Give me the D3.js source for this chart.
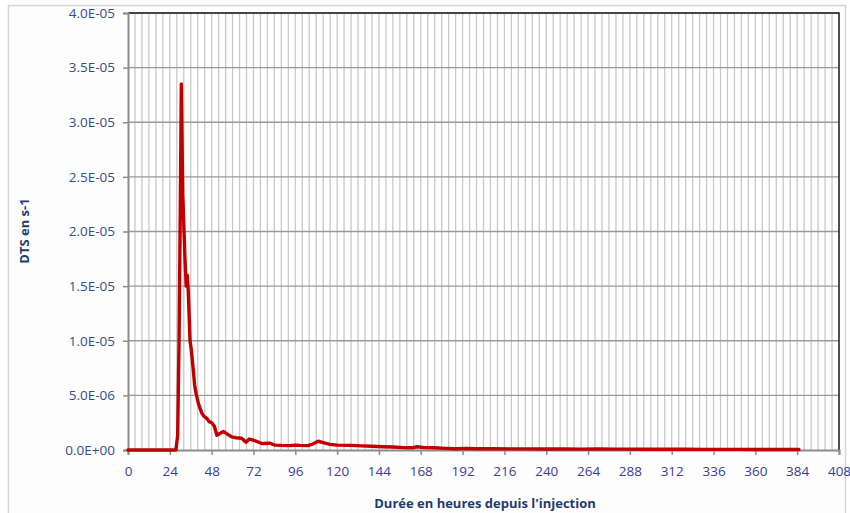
<!DOCTYPE html>
<html>
<head>
<meta charset="utf-8">
<script src="https://cdn.jsdelivr.net/npm/d3@7"></script>
<style>
  html, body { margin: 0; padding: 0; background: #ffffff; }
  svg { display: block; }
  text { font-family: "Open Sans", "DejaVu Sans", sans-serif; }
</style>
</head>
<body>
<svg id="chart" width="850" height="513"></svg>
<script>
// Residence time distribution (DTS) after tracer injection
const hours = [0, 27.5, 28.5, 29.3, 30.0, 30.6, 31.4, 32.7, 33.4, 34.0, 34.6, 35.6, 36.3, 37.5, 38.2, 39.0,
  40.5, 42.3, 43.5, 45.2, 46.5, 48.0, 49.5, 51.0, 54.7, 57.0, 59.5, 62.0, 65.2, 67.7, 69.6, 72.9, 76.7,
  81.5, 84.4, 88.0, 93.0, 96.0, 98.7, 103.3, 106.0, 109.2, 112.0, 115.9, 120, 128, 134, 140, 146, 152,
  158, 163, 166, 170, 176, 182, 188, 194, 200, 210, 220, 230, 240, 250, 260, 270, 280, 290, 300, 310,
  320, 330, 340, 350, 360, 370, 385];
const dts = [0, 0, 1.3e-6, 1.0e-5, 2.2e-5, 3.35e-5, 2.35e-5, 1.75e-5, 1.5e-5, 1.6e-5, 1.45e-5, 1.0e-5,
  9.2e-6, 7.3e-6, 6.0e-6, 5.2e-6, 4.2e-6, 3.4e-6, 3.1e-6, 2.9e-6, 2.6e-6, 2.5e-6, 2.2e-6, 1.35e-6, 1.7e-6,
  1.45e-6, 1.2e-6, 1.12e-6, 1.07e-6, 0.72e-6, 1.0e-6, 0.85e-6, 0.6e-6, 0.62e-6, 0.45e-6, 0.42e-6, 0.4e-6,
  0.45e-6, 0.42e-6, 0.4e-6, 0.55e-6, 0.8e-6, 0.68e-6, 0.52e-6, 0.45e-6, 0.42e-6, 0.38e-6, 0.35e-6, 0.3e-6,
  0.27e-6, 0.22e-6, 0.2e-6, 0.3e-6, 0.22e-6, 0.2e-6, 0.15e-6, 0.12e-6, 0.15e-6, 0.12e-6, 0.11e-6, 0.1e-6,
  0.1e-6, 0.09e-6, 0.09e-6, 0.08e-6, 0.09e-6, 0.08e-6, 0.08e-6, 0.07e-6, 0.07e-6, 0.07e-6, 0.06e-6,
  0.06e-6, 0.06e-6, 0.05e-6, 0.05e-6, 0.05e-6];

const xTicks = d3.range(0, 409, 24);
const xMinor = d3.range(0, 409, 4);
const yTicks = [0, 5e-6, 1e-5, 1.5e-5, 2e-5, 2.5e-5, 3e-5, 3.5e-5, 4e-5];
const yTickLabels = ["0.0E+00", "5.0E-06", "1.0E-05", "1.5E-05", "2.0E-05", "2.5E-05", "3.0E-05", "3.5E-05", "4.0E-05"];
const xTitle = "Durée en heures depuis l'injection";
const yTitle = "DTS en s-1";

const svg = d3.select("#chart");
const m = { left: 128, right: 839, top: 13, bottom: 450 };

const x = d3.scaleLinear().domain([0, 408]).range([m.left, m.right]);
const y = d3.scaleLinear().domain([0, 4e-5]).range([m.bottom, m.top]);

// outer chart frame
svg.append("rect").attr("x", 8.5).attr("y", 5.5).attr("width", 837).attr("height", 520)
  .attr("fill", "#fdfdfd").attr("stroke", "#d6d6d6").attr("stroke-width", 1.5);

// plot area
svg.append("rect").attr("x", m.left).attr("y", m.top)
  .attr("width", m.right - m.left).attr("height", m.bottom - m.top).attr("fill", "#ffffff");

// vertical grid every 4 h
svg.append("g").selectAll("line").data(xMinor.slice(1)).join("line")
  .attr("x1", d => x(d)).attr("x2", d => x(d))
  .attr("y1", m.top).attr("y2", m.bottom)
  .attr("stroke", "#c9c9c9").attr("stroke-width", 1.3);

// horizontal grid on major ticks
svg.append("g").selectAll("line").data(yTicks.slice(1)).join("line")
  .attr("x1", m.left).attr("x2", m.right)
  .attr("y1", d => y(d)).attr("y2", d => y(d))
  .attr("stroke", "#9a9a9a").attr("stroke-width", 1.3);

// plot border (top / right)
svg.append("path")
  .attr("d", `M${m.left},${m.top}H${m.right}V${m.bottom}`)
  .attr("fill", "none").attr("stroke", "#222").attr("stroke-width", 1.5);

// axes
const xAxis = d3.axisBottom(x).tickValues(xTicks).tickSize(5).tickPadding(11).tickFormat(d3.format("d"));
const gx = svg.append("g").attr("transform", `translate(0,${m.bottom})`).call(xAxis);
gx.select(".domain").attr("stroke", "#8c8c8c").attr("stroke-width", 2);
gx.selectAll(".tick line").attr("stroke", "#8c8c8c").attr("stroke-width", 1.5);
gx.selectAll(".tick text").attr("fill", "#3b3b9a").attr("font-size", "13.5px");

const yAxis = d3.axisLeft(y).tickValues(yTicks).tickSize(5).tickPadding(8)
  .tickFormat((d, i) => yTickLabels[i]);
const gy = svg.append("g").attr("transform", `translate(${m.left},0)`).call(yAxis);
gy.select(".domain").attr("stroke", "#8c8c8c").attr("stroke-width", 2);
gy.selectAll(".tick line").attr("stroke", "#8c8c8c").attr("stroke-width", 1.5);
gy.selectAll(".tick text").attr("fill", "#2f4f8a").attr("font-size", "13.5px");

// DTS curve
const line = d3.line().x((d, i) => x(hours[i])).y(d => y(d));
svg.append("path").datum(dts)
  .attr("d", line)
  .attr("fill", "none").attr("stroke", "#c00000").attr("stroke-width", 3.4)
  .attr("stroke-linejoin", "round").attr("stroke-linecap", "round");

// axis titles
svg.append("text").attr("x", 485).attr("y", 508).attr("text-anchor", "middle")
  .attr("font-size", "13px").attr("font-weight", "bold").attr("fill", "#1f3c6e").text(xTitle);
svg.append("text").attr("transform", "translate(29,231) rotate(-90)").attr("text-anchor", "middle")
  .attr("font-size", "13px").attr("font-weight", "bold").attr("fill", "#1f3c6e").text(yTitle);
</script>
</body>
</html>
